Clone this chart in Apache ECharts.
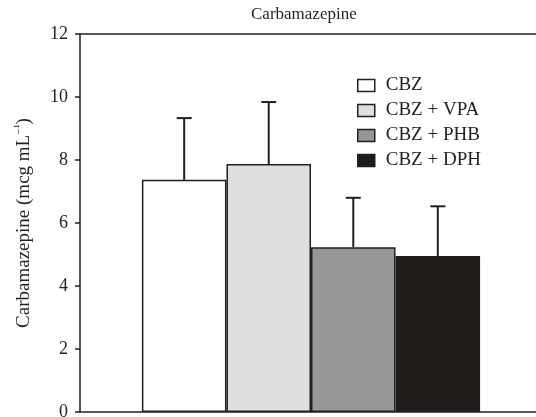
<!DOCTYPE html>
<html style="height: 100%">
   <head>
       <meta charset="utf-8">
   </head>
   <body style="height: 100%; margin: 0; background: #fff">
       <div id="container" style="width: 536px; height: 417px"></div>
       <script type="text/javascript" src="https://cdn.jsdelivr.net/npm/echarts@6/dist/echarts.min.js"></script>
       <script type="text/javascript">
// data
var groups = ['CBZ', 'CBZ + VPA', 'CBZ + PHB', 'CBZ + DPH'];
var means = [7.37, 7.87, 5.23, 4.95];
var upper = [9.33, 9.84, 6.80, 6.53];
var fills = ['#ffffff', '#dfdfdd', '#969696', '#201c1a'];
var yTicks = [0, 2, 4, 6, 8, 10, 12];

var ink = '#231f20';
var font = 'Liberation Serif';
var barFrac = 0.183;

var dom = document.getElementById("container");
var myChart = echarts.init(dom);
var option = null;

var series = groups.map(function (name, i) {
    return {
        name: name,
        type: 'bar',
        data: [means[i]],
        barWidth: (barFrac * 100) + '%',
        barGap: '0%',
        itemStyle: {color: fills[i], borderColor: ink, borderWidth: 1.5},
        emphasis: {disabled: true},
        z: 2
    };
});

series.push({
    type: 'custom',
    name: 'err',
    data: groups.map(function (g, i) { return [0, means[i], upper[i], i]; }),
    z: 3,
    renderItem: function (params, api) {
        var band = api.size([1, 0])[0];
        var idx = api.value(3);
        var cx = api.coord([0, 0])[0] + band * barFrac * (idx - 1.5);
        var yb = api.coord([0, api.value(1)])[1];
        var yt = api.coord([0, api.value(2)])[1];
        var style = {stroke: ink, lineWidth: 2};
        return {
            type: 'group',
            children: [
                {type: 'line', shape: {x1: cx, y1: yb, x2: cx, y2: yt}, style: style},
                {type: 'line', shape: {x1: cx - 7.5, y1: yt, x2: cx + 7.5, y2: yt}, style: style}
            ]
        };
    }
});

option = {
    animation: false,
    backgroundColor: '#ffffff',
    title: {
        text: 'Carbamazepine',
        left: 251,
        top: 6,
        padding: 0,
        textStyle: {fontFamily: font, fontSize: 17, fontWeight: 'normal', color: ink}
    },
    legend: {
        data: groups,
        orient: 'vertical',
        left: 357,
        top: 76,
        padding: 0,
        itemWidth: 17,
        itemHeight: 12,
        itemGap: 6,
        icon: 'rect',
        itemStyle: {borderColor: ink, borderWidth: 1.5},
        textStyle: {fontFamily: font, fontSize: 19, color: ink, padding: [0, 0, 0, 6]},
        selectedMode: false
    },
    grid: {left: 80, width: 462, top: 34, bottom: 5, outerBoundsMode: 'none'},
    xAxis: [{
        type: 'category',
        data: [''],
        axisLine: {lineStyle: {color: ink, width: 1.5}},
        axisTick: {show: false},
        axisLabel: {show: false}
    }, {
        type: 'category',
        position: 'top',
        data: [''],
        axisLine: {lineStyle: {color: ink, width: 1.5}},
        axisTick: {show: false},
        axisLabel: {show: false}
    }],
    yAxis: {
        type: 'value',
        min: yTicks[0],
        max: yTicks[yTicks.length - 1],
        interval: yTicks[1] - yTicks[0],
        name: 'Carbamazepine (mcg mL{sup|\u2212\u00b9})',
        nameLocation: 'middle',
        nameGap: 45,
        nameTextStyle: {
            fontFamily: font, fontSize: 19, color: ink,
            rich: {sup: {fontFamily: font, fontSize: 12, color: ink, verticalAlign: 'top', padding: [0, 0, 10, 0]}}
        },
        axisLine: {show: true, lineStyle: {color: ink, width: 1.5}},
        axisTick: {show: true, length: 5, lineStyle: {color: ink, width: 1.5}},
        axisLabel: {fontFamily: font, fontSize: 18, color: ink, margin: 12},
        splitLine: {show: false}
    },
    series: series
};

if (option && typeof option === "object") {
    myChart.setOption(option, true);
}
       </script>
   </body>
</html>
